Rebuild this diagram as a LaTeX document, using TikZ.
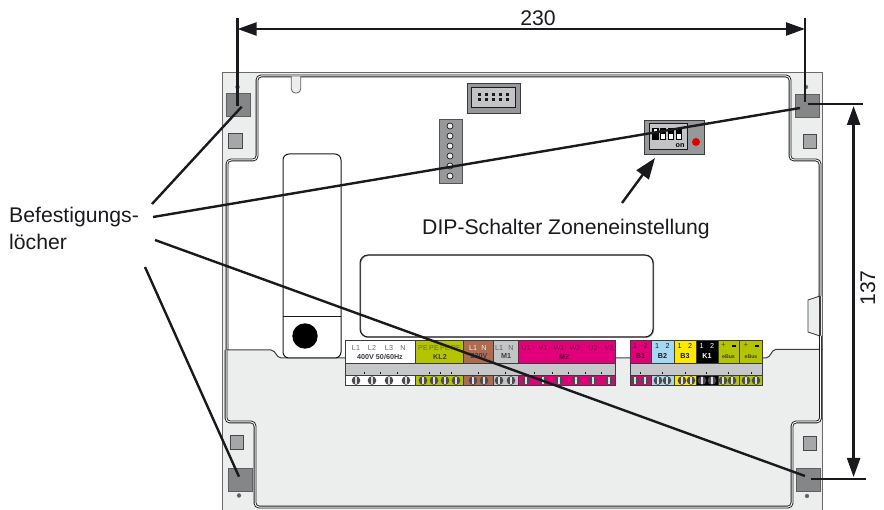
\documentclass[tikz,border=0pt]{standalone}
\usepackage{fontspec}
\setmainfont{Liberation Sans}
\usetikzlibrary{arrows.meta}
\definecolor{plate}{HTML}{ECEEED}
\definecolor{band}{HTML}{C6C7C8}
\definecolor{olive}{HTML}{B4C400}
\definecolor{brownT}{HTML}{AF6B50}
\definecolor{grayT}{HTML}{C3C4C6}
\definecolor{mag}{HTML}{E2007A}
\definecolor{blueT}{HTML}{A5D8F3}
\definecolor{yelT}{HTML}{FFE800}
\definecolor{bigsq}{HTML}{858687}
\definecolor{smsq}{HTML}{A6A7A8}
\definecolor{ink}{HTML}{1A1A1E}
\tikzset{
  x=1pt,y=-1pt,
  rim/.style={draw=ink,line width=.9pt,double=white,double distance=1pt},
  thin line/.style={draw=ink,line width=1pt},
  leader/.style={draw=ink,line width=2.4pt},
  dimline/.style={draw=ink,line width=2.4pt},
  dimarrow/.style={draw=ink,line width=2.4pt,{Triangle[length=19pt,width=13pt]}-{Triangle[length=19pt,width=13pt]}},
  pointer/.style={draw=ink,line width=2.4pt,-{Triangle[length=21pt,width=15pt]}},
  bigsquare/.style={fill=bigsq,draw=ink!70,line width=.8pt},
  smallsquare/.style={fill=smsq,draw=ink!80,line width=.8pt},
  hole/.style={fill=ink!70,draw=ink!60,line width=.3pt},
  big text/.style={font=\fontsize{21.2}{25}\selectfont,text=ink,inner sep=0pt},
  tiny/.style={font=\fontsize{7.2}{8}\selectfont,inner sep=0pt},
  tinyb/.style={font=\fontsize{7.2}{8}\selectfont\bfseries,inner sep=0pt},
  segment/.style={draw=ink!85,line width=.9pt},
}
\begin{document}
\begin{tikzpicture}
\useasboundingbox (0,0) rectangle (884,510);
% plate
\fill[plate] (222.7,73) rectangle (822.7,510);
\draw[draw=ink!65,line width=1pt] (222.7,510) -- (222.7,73) -- (822.7,73) -- (822.7,510);
% white panel
\fill[white,rounded corners=4pt]
  (257,76) -- (790,76) -- (790,160) -- (820,160) -- (819,296) -- (808,300) -- (808,332) -- (819,336) -- (819,349.3)
  -- (774,349.3) -- (768,358) -- (279,358) -- (273,350) -- (227,350) -- (227,160) -- (257,160) -- cycle;
\draw[rim,rounded corners=4pt]
  (227,350) -- (227,160) -- (257,160) -- (257,76) -- (790,76) -- (790,160) -- (820,160) -- (820,296);
\draw[draw=ink!85,line width=.9pt]
  (820,296) -- (808,300) -- (808,332) -- (820,336);
\draw[draw=ink!85,line width=1.1pt] (820,336) -- (820,296);
\draw[draw=ink!85,line width=1pt,rounded corners=2pt]
  (819,349.3) -- (774,349.3) -- (768,358) -- (279,358) -- (273,350) -- (227,350);
% lower rim
\draw[rim,rounded corners=4pt]
  (226,350) -- (226,422) -- (255,422) -- (255,507) -- (792,507) -- (792,422) -- (820.5,422) -- (820.5,336);
% notch top
\draw[fill=plate,draw=ink!70,line width=.8pt,rounded corners=4pt]
  (291.3,76.5) -- (291.3,93) -- (300.7,93) -- (300.7,76.5);
% tall rect
\draw[thin line,rounded corners=6pt,fill=white] (283,154) rectangle (341,358);
\draw[thin line] (283,317) -- (341,317);
\fill[black] (305,336) circle (12.7);
% window
\draw[draw=ink!50,line width=1.2pt,rounded corners=8pt] (360.6,255.4) rectangle (653.6,337.4);
\draw[thin line,rounded corners=8pt] (360,255) rectangle (653,337);
% corner squares
\draw[bigsquare] (226,93) rectangle (250,116);
\draw[smallsquare] (228,133) rectangle (242,148);
\fill[hole] (237.5,87) circle (2);
\draw[bigsquare] (795,94) rectangle (819,117);
\draw[smallsquare] (803,134) rectangle (816,148);
\fill[hole] (806,87) circle (2);
\draw[bigsquare] (228,468) rectangle (252,491);
\draw[smallsquare] (230,435) rectangle (243,449);
\fill[hole] (239,495.5) circle (2);
\draw[bigsquare] (796,468) rectangle (820,491);
\draw[smallsquare] (803.5,436) rectangle (816.5,450);
\fill[hole] (807,496) circle (2);
% connector
\draw[fill=bigsq!85,draw=ink!85,line width=.9pt] (467,83) rectangle (520,113);
\draw[fill=grayT,draw=ink,line width=1pt] (471,88) rectangle (515,108);
\foreach \x in {479,486,493,500,507} \foreach \y in {95,100}
  \fill[ink] (\x-1.5,\y-1.5) rectangle (\x+1.5,\y+1.5);
% pin strip
\draw[fill=bigsq!85,draw=ink!75,line width=.8pt] (439,119) rectangle (462,183);
\foreach \y in {126,136,146,156,166,176}
  \draw[fill=plate,draw=ink,line width=.7pt] (450,\y) circle (3);
% DIP switch
\draw[fill=bigsq!85,draw=ink!85,line width=.8pt] (644,120) rectangle (704,154);
\draw[fill=grayT,draw=ink,line width=1pt] (649,124) rectangle (687,150);
\fill[black] (652,128) rectangle (658.5,140.5);
\fill[white] (653.5,129.5) rectangle (657,133);
\foreach \x in {663,671,679}{
  \fill[black] (\x-3.2,128) rectangle (\x+3.2,140.5);
  \fill[white] (\x-1.8,134) rectangle (\x+1.8,139.5);
}
\node[tinyb,text=black] (dipon) at (680,146) {on};
\fill[red!90!black] (696,142) circle (4);
% terminals
\fill[band] (345,364) rectangle (615,375);
\fill[band] (630,364) rectangle (762,375);
\foreach \a/\b/\c in {345/415/white,415/463.5/olive,463.5/493/brownT,493/518/grayT,518/615/mag,
  630/651/mag,651/674/blueT,674/696/yelT,696/718/black,718/739.5/olive,739.5/762/olive}{
  \draw[segment,fill=\c] (\a,340) rectangle (\b,363.5);
  \draw[segment,fill=\c] (\a,375.5) rectangle (\b,385.5);
}
\draw[segment] (345,340) rectangle (615,385.5);
\draw[segment] (630,340) rectangle (762,385.5);
\foreach \x in {364,380,397,429,440,451,478,505,534,552,568,585,601,640,662,685,706,728,751}
  \draw[ink,line width=.7pt] (\x,372) -- (\x,374.5);
\foreach \x in {356,372,389,406,423,434,445,456,473,484,499,511,526,543,559,576,593,609,635,645,658,667,682,691,702,712,723,732,746,756}{
  \fill[ink!78] (\x,380.5) circle (4.3);
  \fill[white!85!ink] (\x-.75,377.3) rectangle (\x+.75,383.7);
}
% terminal labels
\foreach \n/\x/\t in {a/356/L1,b/372/L2,c/389/L3,d/403/N}
  \node[tiny,text=ink!65] (w\n) at (\x,348) {\t};
\node[tinyb,text=ink!85] (w400) at (380,356.5) {400V 50/60Hz};
\foreach \n/\x/\t in {a/423/PE,b/434/PE,c/445/PE,d/456/PE}
  \node[tiny,text=olive!60!black] (pe\n) at (\x,348) {\t};
\node[tinyb,text=ink!85] (kl2) at (440,356.5) {KL2};
\node[tiny,text=white!90!brownT] (bL) at (473,348) {L1};
\node[tiny,text=white!90!brownT] (bN) at (484,348) {N};
\node[tinyb,text=ink!85] (b230) at (479,356.5) {230V};
\node[tiny,text=ink!70] (gL) at (499,348) {L1};
\node[tiny,text=ink!70] (gN) at (511,348) {N};
\node[tinyb,text=ink!85] (m1) at (506,356.5) {M1};
\foreach \n/\x/\t in {a/526/U1,b/543/V1,c/559/W1,d/575/W2,e/593/U2,f/609/V2}
  \node[tiny,text=mag!55!black] (mg\n) at (\x,348) {\t};
\node[tinyb,text=mag!40!black] (m2) at (564,356.5) {M2};
\foreach \n/\c/\d/\x/\l/\tc in {a/1/2/640.5/B1/mag!40!black,b/1/2/662.5/B2/ink,c/1/2/685/B3/ink,d/1/2/707/K1/white}{
  \node[tiny,text=\tc] (t1\n) at (\x-5.5,346) {\c};
  \node[tiny,text=\tc] (t2\n) at (\x+5,346) {\d};
  \node[tinyb,text=\tc] (t3\n) at (\x,356) {\l};
}
\foreach \n/\x in {e/728.5,f/751}{
  \node[inner sep=0pt,text=olive!40!black,font=\fontsize{8}{9}\selectfont] (p\n) at (\x-5,345.5) {+};
  \fill[black] (\x+3.5,345) rectangle (\x+7.5,346.8);
  \node[inner sep=0pt,text=ink!85,font=\fontsize{5.2}{6}\selectfont\bfseries] (eb\n) at (\x,356.3) {eBus};
}
% named anchors
\coordinate (dimTLtop) at (237.6,18);
\coordinate (dimTLbot) at (237.6,106);
\coordinate (dimTRtop) at (805,18);
\coordinate (dimTRbot) at (805,102);
\coordinate (dimA) at (237.6,29);
\coordinate (dimB) at (805,29);
\coordinate (dimRtl) at (807.7,104);
\coordinate (dimRtr) at (862.7,104);
\coordinate (dimRbl) at (810.7,479);
\coordinate (dimRbr) at (866,479);
\coordinate (dimC) at (853.6,106);
\coordinate (dimD) at (853.6,477);
\coordinate (l1a) at (152,204);
\coordinate (l1b) at (241.7,106.7);
\coordinate (l2a) at (153,217);
\coordinate (l2b) at (800,108);
\coordinate (l3a) at (155,240);
\coordinate (l3b) at (805,476);
\coordinate (l4a) at (145,267);
\coordinate (l4b) at (239,476.7);
\coordinate (pa) at (622,203);
\coordinate (pb) at (655,158);
% dimensions
\draw[dimline] (dimTLtop) -- (dimTLbot);
\draw[dimline] (dimTRtop) -- (dimTRbot);
\draw[dimarrow] (dimA) -- (dimB);
\draw[dimline] (dimRtl) -- (dimRtr);
\draw[dimline] (dimRbl) -- (dimRbr);
\draw[dimarrow] (dimC) -- (dimD);
% leaders
\draw[leader] (l1a) -- (l1b);
\draw[leader] (l2a) -- (l2b);
\draw[leader] (l3a) -- (l3b);
\draw[leader] (l4a) -- (l4b);
\draw[pointer] (pa) -- (pb);
% texts
\node[big text,anchor=base] (dim230) at (538,25.5) {230};
\node[big text,anchor=base,rotate=90] (dim137) at (875,288) {137};
\node[big text,anchor=base west] (bef1) at (9,223) {Befestigungs-};
\node[big text,anchor=base west] (bef2) at (9,250) {löcher};
\node[big text,anchor=base west] (dip) at (422,235) {DIP-Schalter Zoneneinstellung};
\end{tikzpicture}
\end{document}
